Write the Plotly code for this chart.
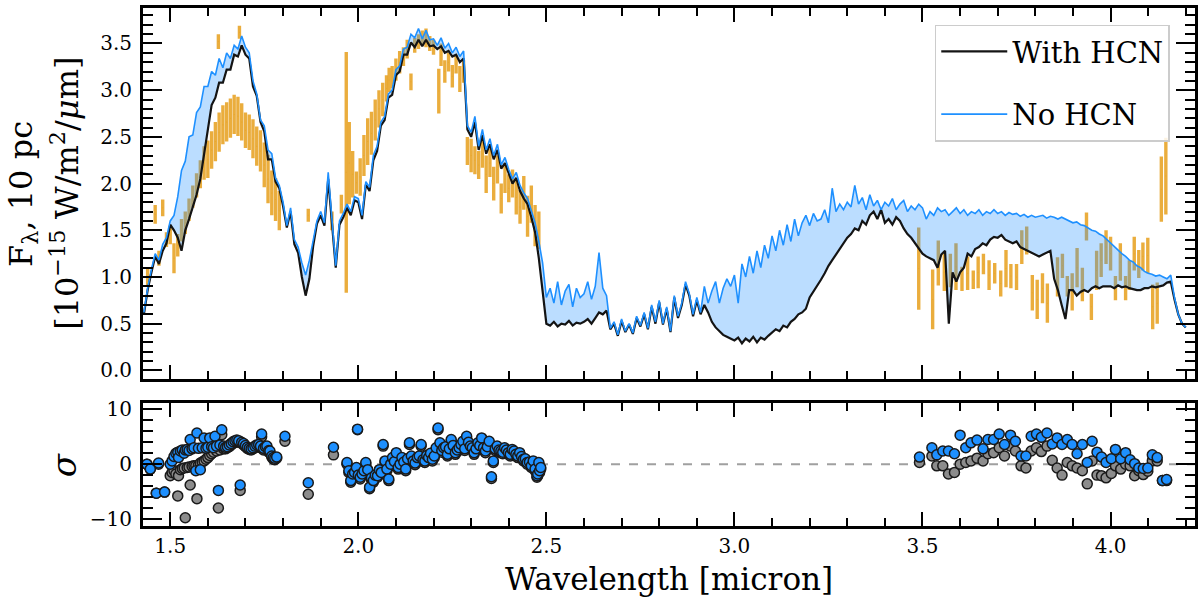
import numpy as np
import plotly.graph_objects as go

SERIF = "DejaVu Serif"

# model spectra on a regular wavelength grid (micron), flux in 1e-15 W/m2/um
wl_start, wl_step = 1.43, 0.01
flux_no_hcn = [
    0.62, 0.88, 1.08, 1.25, 1.18, 1.35, 1.42,
    1.60, 1.66, 1.86, 2.14, 2.24, 2.50, 2.52, 2.76, 2.82, 3.04,
    3.04, 3.20, 3.16, 3.34, 3.24, 3.40, 3.34, 3.48, 3.44, 3.58,
    3.46, 3.40, 3.10, 2.96, 2.68, 2.62, 2.36, 2.32, 2.06, 1.98,
    1.80, 1.55, 1.74, 1.40, 1.32, 1.15, 1.02, 1.18, 1.40, 1.60,
    1.70, 1.58, 2.12, 1.62, 1.12, 1.60, 1.68, 1.78, 1.70, 1.86,
    1.84, 1.66, 2.02, 1.96, 2.30, 2.40, 2.66, 2.72, 2.96, 3.00,
    3.22, 3.26, 3.44, 3.46, 3.60, 3.56, 3.66, 3.55, 3.64, 3.54,
    3.55, 3.48, 3.56, 3.45, 3.50, 3.40, 3.46, 3.36, 3.42, 2.62,
    2.55, 2.72, 2.40, 2.58, 2.36, 2.48, 2.30, 2.42, 2.20, 2.28,
    2.15, 2.05, 2.12, 1.98, 1.90, 1.84, 1.72, 1.58, 1.38, 1.15,
    0.78, 0.88, 0.72, 0.95, 0.70, 0.85, 0.92, 0.68, 0.88, 0.78,
    0.82, 0.95, 0.76, 0.90, 1.26, 0.88, 0.80, 0.45, 0.52, 0.38,
    0.55, 0.42, 0.50, 0.40, 0.58, 0.48, 0.62, 0.45, 0.70, 0.52,
    0.75, 0.50, 0.68, 0.42, 0.80, 0.58, 0.72, 0.95, 0.82, 0.60,
    0.78, 0.62, 0.90, 0.72, 0.85, 0.95, 0.72, 0.88, 0.98, 0.90,
    1.02, 0.72, 1.14, 1.00, 1.22, 1.04, 1.28, 1.10, 1.34, 1.20,
    1.44, 1.28, 1.50, 1.34, 1.56, 1.38, 1.62, 1.44, 1.58, 1.66,
    1.55, 1.68, 1.60, 1.62, 1.72, 1.58, 1.95, 1.70, 1.78, 1.72,
    1.80, 1.75, 1.98, 1.78, 1.85, 1.72, 1.88, 1.76, 1.82, 1.72,
    1.80, 1.76, 1.84, 1.72, 1.78, 1.82, 1.70, 1.76, 1.72, 1.78,
    1.74, 1.62, 1.70, 1.66, 1.74, 1.70, 1.72, 1.66, 1.70, 1.74,
    1.68, 1.72, 1.66, 1.70, 1.68, 1.72, 1.66, 1.70, 1.68, 1.72,
    1.68, 1.70, 1.66, 1.69, 1.67, 1.68, 1.65, 1.67, 1.64, 1.66,
    1.64, 1.65, 1.66, 1.63, 1.65, 1.64, 1.62, 1.64, 1.62, 1.60,
    1.58, 1.59, 1.56, 1.55, 1.52, 1.50, 1.49, 1.46, 1.44, 1.40,
    1.36, 1.32, 1.28, 1.25, 1.22, 1.18, 1.16, 1.12, 1.10, 1.06,
    1.04, 1.03, 1.01, 1.02, 1.00, 0.98, 1.02, 0.78, 0.60, 0.50, 0.46,
]
flux_with_hcn = [
    0.60, 0.86, 1.05, 1.22, 1.14, 1.28, 1.36,
    1.56, 1.50, 1.42, 1.28, 1.50, 1.62, 1.76, 1.88, 2.05, 2.30,
    2.56, 2.84, 2.92, 3.08, 3.08, 3.22, 3.22, 3.38, 3.36, 3.48,
    3.38, 3.34, 3.04, 2.94, 2.66, 2.56, 2.26, 2.26, 2.02, 1.95,
    1.76, 1.53, 1.70, 1.35, 1.26, 1.00, 0.80, 0.98, 1.33, 1.57,
    1.66, 1.55, 2.05, 1.58, 1.10, 1.56, 1.64, 1.74, 1.66, 1.82,
    1.80, 1.62, 1.99, 1.92, 2.25, 2.35, 2.62, 2.68, 2.92, 2.95,
    3.16, 3.20, 3.38, 3.38, 3.51, 3.46, 3.54, 3.47, 3.54, 3.47,
    3.48, 3.44, 3.47, 3.40, 3.42, 3.36, 3.38, 3.30, 3.34, 2.58,
    2.50, 2.66, 2.36, 2.52, 2.32, 2.42, 2.26, 2.36, 2.16, 2.22,
    2.10, 2.00, 2.06, 1.92, 1.84, 1.78, 1.64, 1.48, 1.20, 0.85,
    0.50, 0.48, 0.52, 0.47, 0.50, 0.49, 0.53, 0.48, 0.51, 0.50,
    0.52, 0.55, 0.50, 0.56, 0.62, 0.60, 0.64, 0.44, 0.50, 0.37,
    0.53, 0.41, 0.49, 0.39, 0.56, 0.47, 0.60, 0.44, 0.68, 0.50,
    0.73, 0.49, 0.66, 0.41, 0.78, 0.56, 0.70, 0.92, 0.80, 0.58,
    0.75, 0.60, 0.70, 0.62, 0.52, 0.46, 0.42, 0.38, 0.36, 0.34,
    0.32, 0.35, 0.29, 0.34, 0.31, 0.36, 0.30, 0.35, 0.33, 0.37,
    0.40, 0.44, 0.42, 0.48, 0.46, 0.52, 0.55, 0.60, 0.62, 0.66,
    0.78, 0.84, 0.90, 0.97, 1.04, 1.12, 1.18, 1.24, 1.30, 1.36,
    1.42, 1.46, 1.52, 1.50, 1.60, 1.56, 1.66, 1.70, 1.62, 1.72,
    1.58, 1.62, 1.56, 1.64, 1.60, 1.52, 1.46, 1.42, 1.36, 1.30,
    1.25, 1.22, 1.20, 1.18, 1.10, 1.24, 1.28, 0.50, 1.05, 0.95,
    1.05, 1.10, 1.25, 1.22, 1.30, 1.32, 1.36, 1.34, 1.40, 1.43,
    1.42, 1.45, 1.40, 1.38, 1.36, 1.38, 1.32, 1.30, 1.28, 1.26,
    1.24, 1.22, 1.24, 1.26, 1.28, 0.98, 0.86, 0.70, 0.55, 0.86,
    0.86, 0.80, 0.84, 0.86, 0.84, 0.88, 0.90, 0.88, 0.90, 0.90,
    0.90, 0.88, 0.91, 0.89, 0.90, 0.88, 0.87, 0.86, 0.86, 0.88,
    0.88, 0.90, 0.89, 0.90, 0.91, 0.94, 0.95, 0.76, 0.60, 0.50, 0.46,
]
wl_model = np.round(wl_start + wl_step * np.arange(len(flux_no_hcn)), 3)

# observed spectrum: wavelength, flux, 1-sigma error
obs_wl = [
    1.440, 1.460, 1.470, 1.480, 1.490, 1.500, 1.510, 1.520, 1.530, 1.540,
    1.550, 1.560, 1.570, 1.580, 1.590, 1.600, 1.610, 1.620, 1.628, 1.630,
    1.640, 1.650, 1.660, 1.670, 1.680, 1.684, 1.690, 1.700, 1.710, 1.720,
    1.730, 1.740, 1.750, 1.760, 1.770, 1.780, 1.790, 1.867, 1.930, 1.955,
    1.968, 1.976, 1.985, 1.995, 2.005, 2.015, 2.025, 2.035, 2.045, 2.055,
    2.065, 2.075, 2.082, 2.090, 2.100, 2.110, 2.120, 2.130, 2.140, 2.150,
    2.160, 2.170, 2.180, 2.190, 2.200, 2.214, 2.220, 2.230, 2.240, 2.250,
    2.260, 2.270, 2.280, 2.290, 2.300, 2.310, 2.320, 2.330, 2.340, 2.350,
    2.360, 2.370, 2.380, 2.390, 2.400, 2.410, 2.420, 2.430, 2.440, 2.450,
    2.460, 2.470, 2.480,
    3.490, 3.527, 3.542, 3.558, 3.574, 3.589, 3.605, 3.620, 3.635, 3.648,
    3.662, 3.677, 3.692, 3.708, 3.722, 3.735, 3.750, 3.764, 3.777, 3.792,
    3.805, 3.819, 3.832, 3.859, 3.872, 3.885, 3.898, 3.911, 3.925, 3.936,
    3.949, 3.963, 3.975, 3.988, 4.000, 4.013, 4.026, 4.040, 4.050, 4.063,
    4.075, 4.086, 4.099, 4.112, 4.124, 4.135, 4.147,
]
obs_flux = [
    1.00, 1.67, 1.20, 1.74, 1.40, 1.45, 1.20, 1.34, 1.50, 1.58,
    1.72, 1.86, 1.98, 2.10, 2.22, 2.26, 2.36, 2.45, 3.52, 2.55,
    2.63, 2.66, 2.70, 2.74, 2.72, 3.62, 2.66, 2.57, 2.55, 2.48,
    2.40, 2.35, 2.20, 2.05, 1.90, 1.83, 1.71, 1.66, 1.60, 1.78,
    2.12, 2.22, 2.10, 2.01, 2.07, 2.30, 2.45, 2.54, 2.68, 2.80,
    2.90, 3.02, 3.11, 3.14, 3.22, 3.30, 3.36, 3.44, 3.09, 3.48,
    3.52, 3.56, 3.56, 3.50, 3.46, 2.99, 3.38, 3.20, 3.30, 3.15,
    3.28, 3.12, 3.20, 2.35, 2.30, 2.25, 2.20, 2.32, 2.10, 2.22,
    2.00, 2.15, 1.84, 2.05, 1.95, 2.00, 1.85, 1.75, 1.90, 1.65,
    1.78, 1.55, 1.50,
    1.09, 0.76, 1.15, 1.05, 1.07, 1.11, 0.98, 1.04, 0.97, 1.05,
    1.14, 1.02, 1.04, 0.93, 1.09, 1.01, 1.00, 1.32, 1.39, 0.83,
    0.76, 0.88, 0.72, 1.00, 1.12, 0.90, 0.84, 1.10, 0.92, 1.54,
    0.68, 1.07, 1.18, 1.32, 1.25, 0.88, 1.16, 0.88, 1.02, 1.25,
    1.14, 1.22, 1.23, 0.68, 0.72, 1.94, 2.08,
]
obs_err = [
    0.10, 0.10, 0.08, 0.09, 0.08, 0.10, 0.16, 0.12, 0.12, 0.12,
    0.12, 0.12, 0.13, 0.15, 0.18, 0.20, 0.20, 0.21, 0.08, 0.21,
    0.21, 0.21, 0.21, 0.21, 0.21, 0.07, 0.20, 0.19, 0.19, 0.21,
    0.21, 0.22, 0.24, 0.26, 0.24, 0.23, 0.21, 0.07, 0.10, 0.10,
    1.29, 0.44, 0.25, 0.12, 0.20, 0.22, 0.25, 0.23, 0.22, 0.20,
    0.18, 0.14, 0.13, 0.12, 0.12, 0.12, 0.10, 0.10, 0.09, 0.08,
    0.08, 0.08, 0.10, 0.08, 0.08, 0.24, 0.12, 0.12, 0.10, 0.12,
    0.10, 0.14, 0.12, 0.15, 0.18, 0.15, 0.15, 0.15, 0.20, 0.15,
    0.18, 0.15, 0.16, 0.15, 0.15, 0.15, 0.18, 0.18, 0.18, 0.22,
    0.20, 0.22, 0.20,
    0.44, 0.32, 0.24, 0.20, 0.18, 0.25, 0.13, 0.18, 0.10, 0.17,
    0.11, 0.16, 0.11, 0.14, 0.20, 0.13, 0.14, 0.18, 0.15, 0.19,
    0.21, 0.16, 0.21, 0.21, 0.13, 0.11, 0.20, 0.21, 0.18, 0.15,
    0.14, 0.21, 0.18, 0.18, 0.18, 0.13, 0.20, 0.13, 0.16, 0.18,
    0.15, 0.15, 0.19, 0.24, 0.22, 0.35, 0.41,
]

# residuals in sigma: grey = with HCN, blue = no HCN
res_wl = [
    1.438, 1.447, 1.463, 1.469, 1.485, 1.500, 1.505, 1.510, 1.515, 1.520,
    1.522, 1.527, 1.532, 1.537, 1.540, 1.545, 1.550, 1.553, 1.558, 1.563,
    1.568, 1.571, 1.575, 1.580, 1.585, 1.590, 1.595, 1.600, 1.605, 1.610,
    1.615, 1.619, 1.623, 1.628, 1.632, 1.637, 1.642, 1.647, 1.652, 1.657,
    1.662, 1.667, 1.672, 1.677, 1.682, 1.686, 1.690, 1.695, 1.700, 1.705,
    1.710, 1.715, 1.720, 1.725, 1.730, 1.735, 1.740, 1.743, 1.748, 1.753,
    1.757, 1.762, 1.765, 1.770, 1.774, 1.778, 1.783, 1.805, 1.867, 1.934,
    1.970, 1.975, 1.980, 1.985, 1.990, 1.995, 1.998, 2.000, 2.005, 2.010,
    2.015, 2.020, 2.025, 2.030, 2.035, 2.040, 2.045, 2.051, 2.056, 2.061,
    2.066, 2.071, 2.076, 2.081, 2.086, 2.091, 2.096, 2.101, 2.106, 2.111,
    2.116, 2.121, 2.126, 2.131, 2.136, 2.141, 2.146, 2.151, 2.157, 2.162,
    2.167, 2.172, 2.177, 2.182, 2.187, 2.192, 2.197, 2.202, 2.207, 2.212,
    2.217, 2.222, 2.227, 2.232, 2.237, 2.242, 2.247, 2.252, 2.258, 2.263,
    2.268, 2.273, 2.278, 2.283, 2.288, 2.293, 2.298, 2.303, 2.308, 2.313,
    2.318, 2.323, 2.328, 2.333, 2.338, 2.343, 2.348, 2.354, 2.359, 2.364,
    2.369, 2.374, 2.379, 2.384, 2.389, 2.394, 2.399, 2.404, 2.409, 2.414,
    2.419, 2.424, 2.429, 2.434, 2.439, 2.444, 2.449, 2.455, 2.460, 2.465,
    2.470, 2.475, 2.477, 2.480, 2.482, 2.485,
    3.492, 3.525, 3.538, 3.554, 3.569, 3.585, 3.600, 3.615, 3.629, 3.645,
    3.661, 3.674, 3.689, 3.704, 3.718, 3.734, 3.747, 3.762, 3.775, 3.789,
    3.803, 3.816, 3.831, 3.845, 3.858, 3.871, 3.885, 3.898, 3.911, 3.925,
    3.938, 3.951, 3.964, 3.976, 3.988, 4.002, 4.013, 4.027, 4.040, 4.052,
    4.064, 4.075, 4.087, 4.099, 4.111, 4.124, 4.138, 4.149,
]
res_with_hcn = [
    0.0, -0.9, -5.3, 0.0, -5.1, -2.1, -1.5, -1.2, -1.8, -5.8,
    -2.1, -1.0, -0.8, -0.7, -9.8, -0.6, -0.5, -3.8, -0.4, -0.3,
    -0.3, -6.3, -0.2, 0.2, 0.4, 0.6, 0.9, 1.2, 1.6, 1.9,
    2.2, 4.5, 2.4, -8.0, 2.6, 5.4, 2.8, 2.8, 3.0, 3.2,
    3.5, 3.8, 4.0, 4.1, 4.0, -4.8, 3.8, 3.5, 3.2, 2.9,
    2.7, 2.6, 2.8, 3.0, 3.2, 3.3, 3.0, 5.0, 2.6, 2.8,
    3.0, 2.2, 2.1, 1.3, 0.9, 0.8, 1.1, 4.2, -5.5, 1.7,
    0.0, -1.5, -3.3, -2.1, -1.8, -0.9, 6.3, -2.3, -2.7, -2.1,
    -1.5, 0.0, -1.3, -4.5, -2.8, -3.3, -2.3, -2.4, -1.3, -1.8,
    3.3, 0.3, -1.2, -3.0, -0.3, 0.9, 0.2, 1.8, -0.9, -0.3,
    0.9, 0.1, -1.2, 0.7, 3.6, 1.2, 0.3, -0.1, 0.9, 1.2,
    3.3, 0.5, 0.3, 1.3, 0.9, 1.7, 0.6, 1.2, 2.7, 6.3,
    3.6, 2.2, 2.7, 2.9, 1.5, 2.5, 4.2, 3.1, 1.8, 2.3,
    2.7, 3.3, 3.9, 2.5, 4.8, 3.7, 3.0, 2.7, 1.8, 2.5,
    3.6, 3.1, 4.5, 2.7, 2.1, 2.9, 3.9, -2.6, 0.3, 2.5,
    3.0, 2.3, 2.1, 1.9, 2.7, 2.3, 1.8, 1.5, 2.4, 2.1,
    1.5, 1.2, 1.8, 1.1, 0.6, 0.7, 0.0, 0.1, -0.6, 0.3,
    -1.2, -2.4, -2.1, 0.0, -1.5, -0.9,
    0.3, 1.5, -0.3, -0.3, -1.8, -1.5, 0.0, 0.3, 0.6, 1.1,
    0.6, 1.9, 2.1, 3.0, 1.5, 3.3, 2.4, -0.3, -0.7, 2.4,
    3.0, 2.3, 3.3, 0.7, -0.7, -2.0, 0.3, -0.3, -0.7, -1.2,
    -3.6, 0.6, -2.0, -2.1, -2.5, -1.7, -0.3, -0.9, 0.0, -0.3,
    -2.1, -1.2, -1.9, -1.3, 0.6, 0.6, -3.0, -3.0,
]
res_no_hcn = [
    0.0, -0.9, -5.3, 0.2, -5.1, 0.0, 0.6, 1.4, 2.0, 2.2,
    1.2, 2.4, 2.6, 2.0, 2.6, 2.7, 2.5, 4.5, 2.8, 3.0,
    -1.2, 5.7, 2.9, -1.0, 3.0, 4.8, 2.9, 3.1, 4.8, 3.2,
    3.0, 5.1, 3.3, -4.8, 3.5, 6.3, 3.3, 3.1, 3.2, 3.5,
    3.8, 4.1, 4.3, 4.4, 4.3, -3.8, 4.0, 3.8, 3.4, 3.1,
    2.9, 2.8, 3.0, 3.3, 3.5, 3.6, 3.3, 5.5, 2.9, 3.2,
    3.3, 2.5, 2.4, 1.5, 1.2, 1.1, 1.3, 5.1, -3.4, 3.1,
    0.3, -1.2, -3.0, -1.8, -1.5, -0.6, 6.4, -2.0, -2.4, -1.8,
    -1.2, 0.3, -1.0, -4.2, -2.5, -3.0, -2.0, -2.1, -1.0, -1.5,
    3.6, 0.6, -0.9, -2.7, 0.0, 1.2, 0.5, 2.1, -0.6, 0.0,
    1.2, 0.4, -0.9, 1.0, 3.9, 1.5, 0.6, 0.2, 1.2, 1.5,
    3.6, 0.8, 0.6, 1.6, 1.2, 2.0, 0.9, 1.5, 3.0, 6.6,
    3.9, 2.5, 3.0, 3.2, 1.8, 2.8, 4.5, 3.4, 2.1, 2.6,
    3.0, 3.6, 4.2, 2.8, 5.1, 4.0, 3.3, 3.0, 2.1, 2.8,
    3.9, 3.4, 4.8, 3.0, 2.4, 3.2, 4.2, -2.3, 0.6, 2.8,
    3.3, 2.6, 2.4, 2.2, 3.0, 2.6, 2.1, 1.8, 2.7, 2.4,
    1.8, 1.5, 2.1, 1.4, 0.9, 1.0, 0.3, 0.4, -0.3, 0.6,
    -0.9, -2.1, -1.8, 0.3, -1.2, -0.6,
    1.3, 3.0, 1.7, 2.4, 2.4, 1.9, 5.3, 3.0, 3.9, 4.4,
    2.8, 4.5, 4.5, 5.5, 3.6, 5.3, 4.2, 1.5, 1.5, 5.1,
    5.5, 4.9, 5.7, 3.7, 4.8, 3.6, 4.5, 3.6, 1.9, 3.6,
    0.3, 4.2, 2.2, 1.3, 0.3, 1.0, 2.7, 1.0, 2.1, 0.8,
    0.1, -0.7, -0.8, -0.7, 1.7, 1.2, -3.0, -2.8,
]

BLACK = "#141414"
BLUE = "#1e90ff"
ORANGE = "rgba(232,164,40,0.9)"

fig = go.Figure()

# observed data as vertical error bars
fig.add_trace(go.Scatter(
    x=obs_wl, y=obs_flux, mode="markers",
    marker=dict(size=1, color=ORANGE),
    error_y=dict(type="data", array=obs_err, visible=True,
                 thickness=3.4, width=0, color=ORANGE),
    showlegend=False, hoverinfo="skip",
))
# shaded region between the two models
fig.add_trace(go.Scatter(
    x=wl_model, y=flux_with_hcn, mode="lines",
    line=dict(width=0), showlegend=False, hoverinfo="skip",
))
fig.add_trace(go.Scatter(
    x=wl_model, y=flux_no_hcn, mode="lines", fill="tonexty",
    fillcolor="rgba(30,144,255,0.3)", line=dict(width=0),
    showlegend=False, hoverinfo="skip",
))
fig.add_trace(go.Scatter(
    x=wl_model, y=flux_with_hcn, mode="lines", name="With HCN",
    line=dict(color=BLACK, width=2.2), legendgroup="a",
))
fig.add_trace(go.Scatter(
    x=wl_model, y=flux_no_hcn, mode="lines", name="No HCN",
    line=dict(color=BLUE, width=1.6), legendgroup="b",
))

# residual panel
fig.add_trace(go.Scatter(
    x=res_wl, y=res_with_hcn, mode="markers", xaxis="x2", yaxis="y2",
    marker=dict(size=10, color="#8c8c8c", line=dict(color="#1a1a1a", width=1.5)),
    showlegend=False,
))
fig.add_trace(go.Scatter(
    x=res_wl, y=res_no_hcn, mode="markers", xaxis="x2", yaxis="y2",
    marker=dict(size=10, color=BLUE, line=dict(color="#1a1a1a", width=1.5)),
    showlegend=False,
))

tick_font = dict(family=SERIF, size=20, color="black")
frame = dict(showline=True, linewidth=3, linecolor="black", mirror="allticks",
             ticks="inside", tickcolor="black", tickwidth=1.5,
             showgrid=False, zeroline=False, tickfont=tick_font)
xr = [1.4276, 4.2245]

fig.update_layout(
    width=1200, height=597,
    margin=dict(l=143, r=2, t=2, b=71),
    paper_bgcolor="white", plot_bgcolor="white",
    font=dict(family=SERIF, color="black"),
    xaxis=dict(frame, domain=[0, 1], anchor="y", range=xr, dtick=0.5, tick0=0,
               ticklen=14, showticklabels=False,
               minor=dict(dtick=0.1, ticklen=8, tickwidth=1.5, tickcolor="black", ticks="inside")),
    yaxis=dict(frame, domain=[0.2844, 1], anchor="x", range=[-0.089, 3.88],
               dtick=0.5, tick0=0, tickformat=".1f", ticklen=19, ticklabelstandoff=4,
               minor=dict(dtick=0.1, ticklen=10, tickwidth=1.5, tickcolor="black", ticks="inside")),
    xaxis2=dict(frame, domain=[0, 1], anchor="y2", range=xr, dtick=0.5, tick0=0,
                tickformat=".1f", ticklen=14, matches="x", ticklabelstandoff=0,
                minor=dict(dtick=0.1, ticklen=8, tickwidth=1.5, tickcolor="black", ticks="inside")),
    yaxis2=dict(frame, domain=[0, 0.2366], anchor="x2", range=[-11.3, 11.1],
                dtick=10, tick0=0, ticklen=19, ticklabelstandoff=4,
                minor=dict(dtick=2, ticklen=10, tickwidth=1.5, tickcolor="black", ticks="inside")),
    legend=dict(x=0.976, y=0.968, xanchor="right", yanchor="top",
                bgcolor="rgba(255,255,255,0.85)", bordercolor="#cccccc", borderwidth=1.5,
                font=dict(family=SERIF, size=29, color="black"),
                tracegroupgap=22, itemwidth=66),
    shapes=[dict(type="line", xref="x2 domain", yref="y2", x0=0, x1=1, y0=0, y1=0,
                 line=dict(color="#a0a0a0", width=2, dash="dash"), layer="below")],
    annotations=[
        dict(text="F<sub>λ</sub>, 10 pc", xref="paper", yref="paper",
             x=-0.1147, y=0.6416, textangle=-90, showarrow=False,
             xanchor="center", yanchor="middle", font=dict(family=SERIF, size=32)),
        dict(text="[10<sup>−15</sup> W/m<sup>2</sup>/<i>μ</i>m]", xref="paper", yref="paper",
             x=-0.0749, y=0.6416, textangle=-90, showarrow=False,
             xanchor="center", yanchor="middle", font=dict(family=SERIF, size=32)),
        dict(text="<i>σ</i>", xref="paper", yref="paper",
             x=-0.0748, y=0.118, textangle=-90, showarrow=False,
             xanchor="center", yanchor="middle", font=dict(family=SERIF, size=34)),
        dict(text="Wavelength [micron]", xref="paper", yref="paper",
             x=0.5, y=-0.103, showarrow=False,
             xanchor="center", yanchor="middle", font=dict(family=SERIF, size=31)),
    ],
)

# drop the default page margin so the figure sits at the window's corner
fig.write_html("out.html", config={"displayModeBar": False},
               post_script="document.body.style.margin='0';")
